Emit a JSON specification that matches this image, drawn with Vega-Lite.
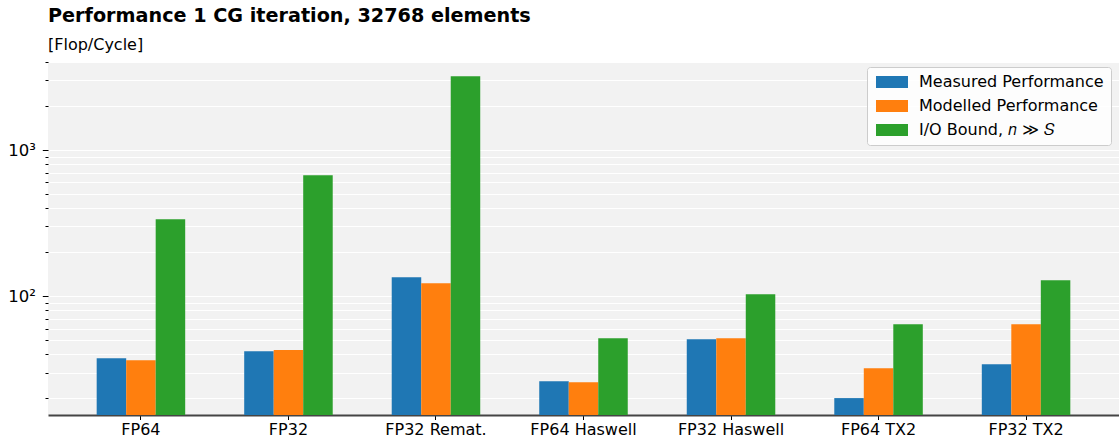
{
  "$schema": "https://vega.github.io/schema/vega-lite/v6.json",
  "width": 1071,
  "height": 353,
  "autosize": "none",
  "padding": {"left": 48, "top": 62, "right": 0, "bottom": 27},
  "background": "white",
  "title": {
    "text": "Performance 1 CG iteration, 32768 elements",
    "subtitle": "[Flop/Cycle]",
    "anchor": "start",
    "frame": "group",
    "font": "DejaVu Sans",
    "fontSize": 19.2,
    "fontWeight": "bold",
    "color": "black",
    "subtitleFont": "DejaVu Sans",
    "subtitleFontSize": 16,
    "subtitleColor": "black",
    "subtitlePadding": 10,
    "offset": 9
  },
  "config": {"view": {"fill": "#f2f2f2", "stroke": null}, "font": "DejaVu Sans"},
  "data": {
    "values": [
      {"config": "FP64", "series": "Measured Performance", "value": 37.7},
      {"config": "FP64", "series": "Modelled Performance", "value": 36.5},
      {"config": "FP64", "series": "I/O Bound, 𝑛 ≫ 𝑆", "value": 336},
      {"config": "FP32", "series": "Measured Performance", "value": 42.1},
      {"config": "FP32", "series": "Modelled Performance", "value": 42.8},
      {"config": "FP32", "series": "I/O Bound, 𝑛 ≫ 𝑆", "value": 671},
      {"config": "FP32 Remat.", "series": "Measured Performance", "value": 135},
      {"config": "FP32 Remat.", "series": "Modelled Performance", "value": 122.7},
      {"config": "FP32 Remat.", "series": "I/O Bound, 𝑛 ≫ 𝑆", "value": 3190},
      {"config": "FP64 Haswell", "series": "Measured Performance", "value": 26.2},
      {"config": "FP64 Haswell", "series": "Modelled Performance", "value": 25.8},
      {"config": "FP64 Haswell", "series": "I/O Bound, 𝑛 ≫ 𝑆", "value": 51.6},
      {"config": "FP32 Haswell", "series": "Measured Performance", "value": 50.8},
      {"config": "FP32 Haswell", "series": "Modelled Performance", "value": 51.6},
      {"config": "FP32 Haswell", "series": "I/O Bound, 𝑛 ≫ 𝑆", "value": 103},
      {"config": "FP64 TX2", "series": "Measured Performance", "value": 20.1},
      {"config": "FP64 TX2", "series": "Modelled Performance", "value": 32.2},
      {"config": "FP64 TX2", "series": "I/O Bound, 𝑛 ≫ 𝑆", "value": 64.4},
      {"config": "FP32 TX2", "series": "Measured Performance", "value": 34.3},
      {"config": "FP32 TX2", "series": "Modelled Performance", "value": 64.4},
      {"config": "FP32 TX2", "series": "I/O Bound, 𝑛 ≫ 𝑆", "value": 128.6}
    ]
  },
  "mark": {"type": "bar", "clip": true},
  "encoding": {
    "x": {
      "field": "config",
      "type": "nominal",
      "sort": ["FP64", "FP32", "FP32 Remat.", "FP64 Haswell", "FP32 Haswell", "FP64 TX2", "FP32 TX2"],
      "scale": {"paddingInner": 0.4, "paddingOuter": 0.33},
      "axis": {
        "title": null,
        "labelAngle": 0,
        "labelFontSize": 16,
        "labelColor": "black",
        "tickColor": "black",
        "tickSize": 4.5,
        "domainColor": "#444444",
        "domainWidth": 1.8,
        "labelPadding": 2,
        "grid": false
      }
    },
    "xOffset": {
      "field": "series",
      "type": "nominal",
      "sort": ["Measured Performance", "Modelled Performance", "I/O Bound, 𝑛 ≫ 𝑆"]
    },
    "y": {
      "field": "value",
      "type": "quantitative",
      "stack": null,
      "scale": {"type": "log", "domain": [15.4, 4000], "nice": false},
      "axis": {
        "title": null,
        "values": [20, 30, 40, 50, 60, 70, 80, 90, 100, 200, 300, 400, 500, 600, 700, 800, 900, 1000, 2000, 3000, 4000],
        "labelExpr": "datum.value == 100 ? '10²' : datum.value == 1000 ? '10³' : ''",
        "grid": true,
        "gridColor": "white",
        "gridWidth": 1,
        "domain": false,
        "tickColor": "black",
        "tickSize": {"condition": {"test": "datum.value == 100 || datum.value == 1000", "value": 5.7}, "value": 3},
        "labelFontSize": 16.5,
        "labelColor": "black",
        "labelPadding": 7
      }
    },
    "color": {
      "field": "series",
      "type": "nominal",
      "sort": ["Measured Performance", "Modelled Performance", "I/O Bound, 𝑛 ≫ 𝑆"],
      "scale": {
        "domain": ["Measured Performance", "Modelled Performance", "I/O Bound, 𝑛 ≫ 𝑆"],
        "range": ["#1f77b4", "#ff7f0e", "#2ca02c"]
      },
      "legend": {
        "title": null,
        "orient": "none",
        "legendX": 819,
        "legendY": 5,
        "direction": "vertical",
        "fillColor": "rgba(255,255,255,0.8)",
        "strokeColor": "#cccccc",
        "cornerRadius": 3,
        "padding": 7,
        "labelFontSize": 16,
        "labelColor": "black",
        "labelLimit": 400,
        "labelOffset": 19,
        "symbolType": "M-2.667,-1H2.667V1H-2.667Z",
        "symbolSize": 144,
        "symbolOffset": 10,
        "symbolStrokeWidth": 0,
        "symbolOpacity": 1,
        "rowPadding": 8
      }
    }
  }
}
